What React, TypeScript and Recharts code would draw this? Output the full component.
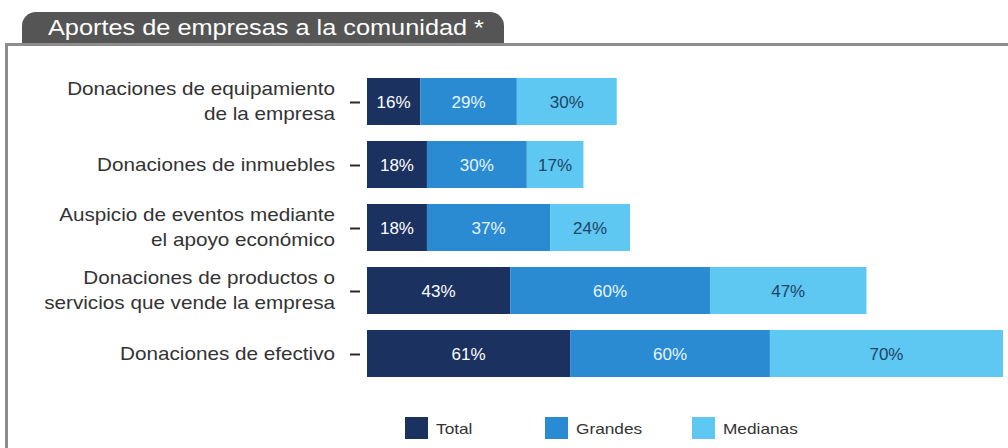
import { BarChart, Bar, XAxis, YAxis, LabelList } from 'recharts';

const categories = [
  'Donaciones de equipamiento\nde la empresa',
  'Donaciones de inmuebles',
  'Auspicio de eventos mediante\nel apoyo económico',
  'Donaciones de productos o\nservicios que vende la empresa',
  'Donaciones de efectivo',
];
const total = [16, 18, 18, 43, 61];
const grandes = [29, 30, 37, 60, 60];
const medianas = [30, 17, 24, 47, 70];

const series = [
  { key: 'total', name: 'Total', color: '#1b3160', text: '#ffffff' },
  { key: 'grandes', name: 'Grandes', color: '#2a8bd3', text: '#e6f4ff' },
  { key: 'medianas', name: 'Medianas', color: '#5ec8f2', text: '#1e4466' },
];

const data = categories.map((category, i) => ({
  category,
  total: total[i],
  grandes: grandes[i],
  medianas: medianas[i],
}));

const maxSum = Math.max(...data.map((d) => d.total + d.grandes + d.medianas));

const FONT = '"Liberation Sans", Arial, sans-serif';

function CategoryTick({ x, y, payload }: any) {
  const lines = String(payload.value).split('\n');
  const lh = 25;
  const first = -((lines.length - 1) * lh) / 2 + 6;
  return (
    <g transform={`translate(${x},${y})`}>
      <line x1={-17} x2={-7} y1={1} y2={1} stroke="#2a2a2a" strokeWidth={2} />
      <g transform="translate(-32,0) scale(1.15,1)">
        <text textAnchor="end" fontSize={18} fill="#333" fontFamily={FONT}>
          {lines.map((l, i) => (
            <tspan key={i} x={0} y={first + i * lh}>
              {l}
            </tspan>
          ))}
        </text>
      </g>
    </g>
  );
}

export default function App() {
  return (
    <div
      style={{
        position: 'absolute',
        left: 0,
        top: 0,
        width: 1008,
        height: 448,
        background: '#fff',
        overflow: 'hidden',
        fontFamily: FONT,
      }}
    >
      {/* title tab */}
      <div
        style={{
          position: 'absolute',
          left: 22,
          top: 12,
          width: 482,
          height: 33,
          background: '#555',
          borderRadius: '14px 14px 0 0',
        }}
      >
        <span
          style={{
            position: 'absolute',
            left: 26,
            top: 3,
            color: '#fff',
            fontSize: 22,
            lineHeight: '26px',
            whiteSpace: 'nowrap',
            display: 'inline-block',
            transform: 'scaleX(1.15)',
            transformOrigin: 'left center',
          }}
        >
          Aportes de empresas a la comunidad *
        </span>
      </div>
      {/* frame */}
      <div style={{ position: 'absolute', left: 5, top: 43, width: 1003, height: 3, background: '#8c8c8c' }} />
      <div style={{ position: 'absolute', left: 5, top: 43, width: 3, height: 405, background: '#8c8c8c' }} />

      <div style={{ position: 'absolute', left: 0, top: 0 }}>
        <BarChart
          width={1008}
          height={448}
          data={data}
          layout="vertical"
          margin={{ top: 70, right: 5, bottom: 63, left: 0 }}
        >
          <XAxis type="number" hide domain={[0, maxSum]} />
          <YAxis
            type="category"
            dataKey="category"
            width={367}
            axisLine={false}
            tickLine={false}
            tickSize={0}
            tickMargin={0}
            interval={0}
            tick={<CategoryTick />}
          />
          {series.map((s) => (
            <Bar
              key={s.key}
              dataKey={s.key}
              name={s.name}
              stackId="a"
              fill={s.color}
              barSize={47}
              isAnimationActive={false}
            >
              <LabelList
                dataKey={s.key}
                position="center"
                fill={s.text}
                fontSize={17}
                fontFamily={FONT}
                formatter={(v: any) => `${v}%`}
              />
            </Bar>
          ))}
        </BarChart>
      </div>

      {/* legend */}
      <div style={{ position: 'absolute', left: 405, top: 417, display: 'flex' }}>
        {series.map((s, i) => (
          <div key={s.key} style={{ display: 'flex', alignItems: 'center', width: i === 0 ? 140 : 147 }}>
            <div style={{ width: 23, height: 22, background: s.color }} />
            <span
              style={{
                marginLeft: 8,
                fontSize: 15,
                color: '#333',
                display: 'inline-block',
                transform: 'scaleX(1.15)',
                transformOrigin: 'left center',
              }}
            >
              {s.name}
            </span>
          </div>
        ))}
      </div>
    </div>
  );
}
